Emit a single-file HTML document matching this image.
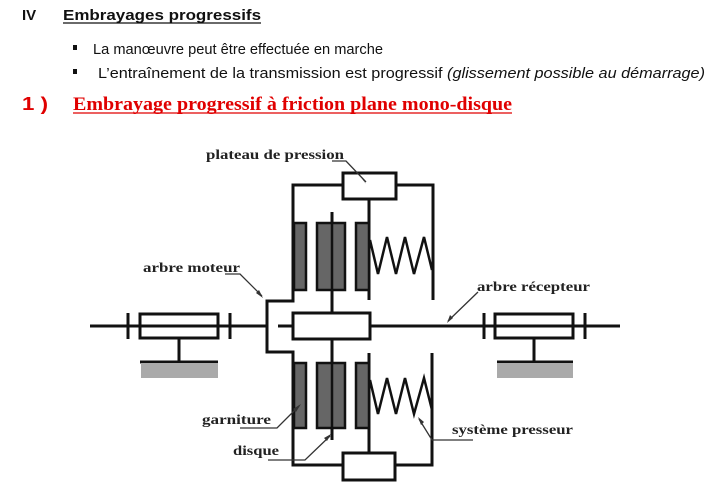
<!DOCTYPE html>
<html><head><meta charset="utf-8"><style>
html,body{margin:0;padding:0;background:#fff;}
svg{display:block}
.b{font-family:"Liberation Serif",serif;font-weight:bold;font-size:14px;fill:#222}
.c{font-family:"Liberation Sans",sans-serif;font-size:15px;fill:#111}
</style></head><body>
<svg width="712" height="490" viewBox="0 0 712 490" xmlns="http://www.w3.org/2000/svg">
<!-- header -->
<text x="22" y="20" font-family="Liberation Sans" font-weight="bold" font-size="15" fill="#111">IV</text>
<text x="63" y="20" font-family="Liberation Sans" font-weight="bold" font-size="15" fill="#111" textLength="198" lengthAdjust="spacingAndGlyphs">Embrayages progressifs</text>
<line x1="63" y1="23" x2="261" y2="23" stroke="#111" stroke-width="1.2"/>
<rect x="73" y="45" width="4" height="5" fill="#111"/>
<rect x="73" y="69" width="4" height="5" fill="#111"/>
<text class="c" x="93" y="54" textLength="290" lengthAdjust="spacingAndGlyphs">La manœuvre peut être effectuée en marche</text>
<text class="c" x="98" y="78" textLength="607" lengthAdjust="spacingAndGlyphs">L’entraînement de la transmission est progressif <tspan font-style="italic">(glissement possible au démarrage)</tspan></text>
<text x="22" y="110" font-family="Liberation Sans" font-weight="bold" font-size="18" fill="#e00000" textLength="26" lengthAdjust="spacingAndGlyphs">1 )</text>
<text x="73" y="110" font-family="Liberation Serif" font-weight="bold" font-size="19" fill="#e00000" textLength="439" lengthAdjust="spacingAndGlyphs">Embrayage progressif à friction plane mono-disque</text>
<line x1="73" y1="113" x2="512" y2="113" stroke="#e00000" stroke-width="1.3"/>

<g stroke="#111" stroke-width="3" fill="none" stroke-linejoin="miter">
<line x1="90" y1="326" x2="267" y2="326"/>
<line x1="278" y1="326" x2="293" y2="326"/>
<line x1="370" y1="326" x2="620" y2="326"/>
<rect x="140" y="314" width="78" height="24" fill="#fff"/>
<line x1="140" y1="326" x2="218" y2="326"/>
<line x1="128" y1="313" x2="128" y2="339"/><line x1="230" y1="313" x2="230" y2="339"/>
<rect x="495" y="314" width="78" height="24" fill="#fff"/>
<line x1="495" y1="326" x2="573" y2="326"/>
<line x1="484" y1="313" x2="484" y2="339"/><line x1="585" y1="313" x2="585" y2="339"/>
<line x1="179" y1="338" x2="179" y2="362"/><line x1="140" y1="362" x2="218" y2="362"/>
<line x1="534" y1="338" x2="534" y2="362"/><line x1="497" y1="362" x2="573" y2="362"/>
<polyline points="267,326 267,301 293,301 293,185 343,185"/>
<polyline points="396,185 433,185 433,300"/>
<polyline points="267,326 267,352 293,352 293,465 343,465"/>
<polyline points="395,465 432,465 432,353"/>
<rect x="343" y="173" width="53" height="26" fill="#fff"/>
<rect x="343" y="453" width="52" height="27" fill="#fff"/>
<rect x="293" y="313" width="77" height="26" fill="#fff"/>
<line x1="332" y1="212" x2="332" y2="313"/>
<line x1="332" y1="339" x2="332" y2="440"/>
<line x1="369" y1="199" x2="369" y2="300"/>
<line x1="369" y1="353" x2="369" y2="453"/>
</g>
<g fill="#666" stroke="#111" stroke-width="2.5">
<rect x="294" y="223" width="12" height="67"/>
<rect x="317" y="223" width="28" height="67"/>
<rect x="356" y="223" width="13" height="67"/>
<rect x="294" y="363" width="12" height="65"/>
<rect x="317" y="363" width="28" height="65"/>
<rect x="356" y="363" width="13" height="65"/>
</g>
<g stroke="#111" stroke-width="2.5">
<line x1="332" y1="212" x2="332" y2="300"/>
<line x1="332" y1="353" x2="332" y2="440"/>
</g>
<rect x="141" y="363" width="77" height="15" fill="#aaa"/>
<rect x="497" y="363" width="76" height="15" fill="#aaa"/>
<g stroke="#111" stroke-width="2.5" fill="none">
<polyline points="370,240 378,274 387,237 396,274 405,237 414,274 424,237 432,270"/>
<polyline points="370,380 378,414 387,378 396,414 405,378 414,414 424,378 432,410"/>
</g>
<g stroke="#333" stroke-width="1.3" fill="none">
<polyline points="332,161 346,161 366,182"/>
<polyline points="225,274 240,274 262,296"/>
<polyline points="478,292 448,321"/>
<polyline points="240,428 277,428 299,406"/>
<polyline points="268,460 305,460 330,436"/>
<polyline points="473,440 432,440 419,419"/>
</g>
<g fill="#333">
<polygon points="366,184 360,176 363,179"/>
<polygon points="263,298 256,293 259,290"/>
<polygon points="447,323 450,315 453,318"/>
<polygon points="301,404 293,409 296,412"/>
<polygon points="331,434 324,438 327,441"/>
<polygon points="418,417 424,422 421,425"/>
</g>
<text class="b" x="206" y="159" textLength="138" lengthAdjust="spacingAndGlyphs">plateau de pression</text>
<text class="b" x="143" y="272" textLength="97" lengthAdjust="spacingAndGlyphs">arbre moteur</text>
<text class="b" x="477" y="291" textLength="113" lengthAdjust="spacingAndGlyphs">arbre récepteur</text>
<text class="b" x="202" y="424" textLength="69" lengthAdjust="spacingAndGlyphs">garniture</text>
<text class="b" x="233" y="455" textLength="46" lengthAdjust="spacingAndGlyphs">disque</text>
<text class="b" x="452" y="434" textLength="121" lengthAdjust="spacingAndGlyphs">système presseur</text>
</svg>
</body></html>
